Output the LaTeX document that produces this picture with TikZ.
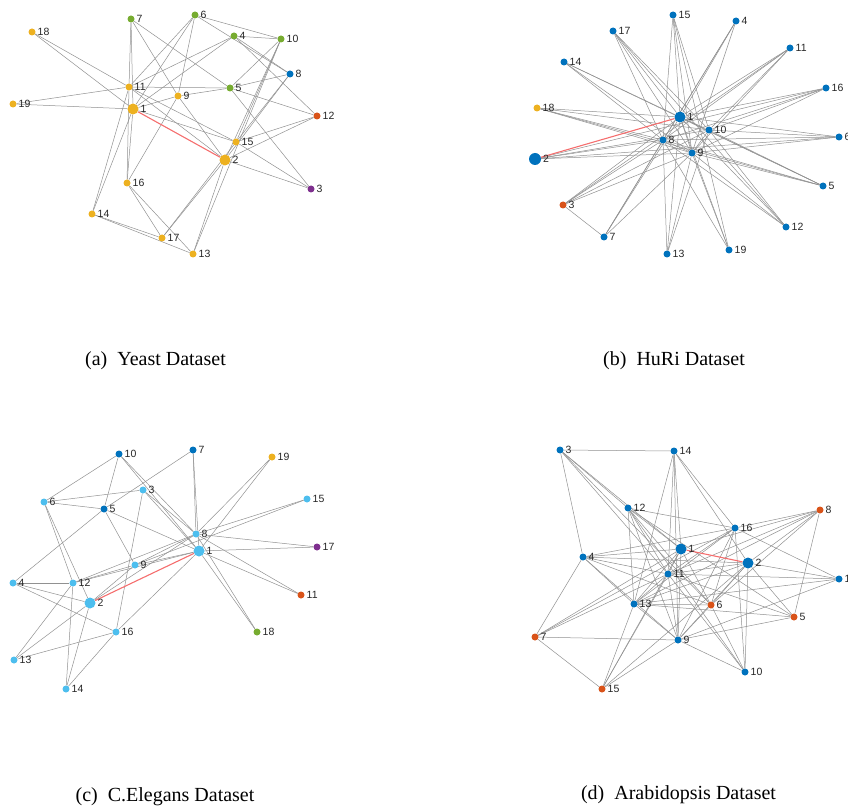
\documentclass[tikz,border=0pt]{standalone}
\usepackage{fontspec}
\setmainfont{Liberation Serif}
\newfontfamily\labfont{Liberation Sans}
\usetikzlibrary{backgrounds}
\definecolor{myY}{RGB}{237,177,32}
\definecolor{myG}{RGB}{119,172,48}
\definecolor{myB}{RGB}{0,114,189}
\definecolor{myO}{RGB}{217,83,25}
\definecolor{myP}{RGB}{126,47,142}
\definecolor{myL}{RGB}{77,190,238}
\definecolor{edgec}{RGB}{145,145,145}
\definecolor{rededge}{RGB}{245,110,110}
\tikzset{
  dot/.style={circle,inner sep=0pt,minimum size=7pt,fill=#1,draw=none},
  bigdot/.style={circle,inner sep=0pt,minimum size=11pt,fill=#1,draw=none},
  lbl/.style={font=\labfont\fontsize{10.5}{11}\selectfont,text=black!85,inner sep=0pt,label distance=1.8pt},
  ed/.style={draw=edgec,line width=0.5pt},
  red/.style={draw=rededge,line width=1.1pt},
  capt/.style={font=\fontsize{20}{22}\selectfont,inner sep=0pt}
}
\newcommand\nd[5]{\node[dot=#4,label={[lbl]right:#5}] (#1) at (#2,#3) {};}
\newcommand\bnd[5]{\node[bigdot=#4,label={[lbl]right:#5}] (#1) at (#2,#3) {};}
\begin{document}
\begin{tikzpicture}[x=1pt,y=-1pt]
\useasboundingbox (0,0) rectangle (848,810);
% ---------------- (a) Yeast ----------------
\nd{a7}{131}{19}{myG}{7}
\nd{a6}{195}{15}{myG}{6}
\nd{a18}{32}{32}{myY}{18}
\nd{a4}{234}{36}{myG}{4}
\nd{a10}{281}{39}{myG}{10}
\nd{a8}{290}{74}{myB}{8}
\nd{a11}{129}{87}{myY}{11}
\nd{a5}{230}{88}{myG}{5}
\nd{a9}{178}{96}{myY}{9}
\nd{a19}{13}{104}{myY}{19}
\bnd{a1}{133}{109}{myY}{1}
\nd{a12}{317}{116}{myO}{12}
\nd{a15}{236}{142}{myY}{15}
\bnd{a2}{225}{160}{myY}{2}
\nd{a16}{127}{183}{myY}{16}
\nd{a3}{311}{189}{myP}{3}
\nd{a14}{92}{214}{myY}{14}
\nd{a17}{162}{238}{myY}{17}
\nd{a13}{193}{254}{myY}{13}
\begin{scope}[on background layer]
\foreach \u/\v in {a18/a11,a18/a1,a19/a11,a19/a1,a7/a11,a7/a1,a7/a9,a7/a5,
  a6/a11,a6/a1,a6/a9,a6/a10,a6/a8,a4/a10,a4/a11,a4/a1,a4/a8,a4/a12,
  a10/a5,a10/a2,a10/a13,a10/a15,a8/a5,a8/a15,a8/a2,a11/a5,a11/a15,a11/a2,a11/a14,
  a1/a9,a1/a15,a1/a16,a1/a14,a11/a16,a9/a5,a9/a16,a9/a2,a5/a12,a5/a3,
  a12/a15,a12/a2,a15/a3,a2/a3,a2/a17,a2/a13,a15/a17,a16/a17,a16/a13,a14/a17,a14/a13}
  \draw[ed] (\u) -- (\v);
\draw[red] (a1) -- (a2);
\end{scope}
\node[capt] (capa) at (155.5,361) {(a)\hspace{0.5em}Yeast Dataset};
% ---------------- (b) HuRi ----------------
\nd{b15}{673}{15}{myB}{15}
\nd{b4}{736}{21}{myB}{4}
\nd{b17}{613}{31}{myB}{17}
\nd{b11}{790}{48}{myB}{11}
\nd{b14}{564}{62}{myB}{14}
\nd{b16}{826}{88}{myB}{16}
\nd{b18}{537}{108}{myY}{18}
\bnd{b1}{680}{117}{myB}{1}
\nd{b10}{709}{130}{myB}{10}
\nd{b6}{839}{137}{myB}{6}
\nd{b8}{663}{140}{myB}{8}
\nd{b9}{692}{153}{myB}{9}
\node[bigdot=myB,minimum size=12pt,label={[lbl]right:2}] (b2) at (535,159) {};
\nd{b5}{823}{186}{myB}{5}
\nd{b3}{563}{205}{myO}{3}
\nd{b12}{786}{227}{myB}{12}
\nd{b7}{604}{237}{myB}{7}
\nd{b19}{729}{250}{myB}{19}
\nd{b13}{667}{254}{myB}{13}
\begin{scope}[on background layer]
\foreach \u/\v in {b15/b8,b15/b9,b15/b10,b15/b1,b15/b19,
  b4/b1,b4/b8,b4/b9,b4/b7,b17/b1,b17/b8,b17/b9,b17/b10,b17/b12,
  b11/b1,b11/b8,b11/b9,b11/b10,b11/b3,b14/b1,b14/b8,b14/b5,b14/b9,
  b16/b1,b16/b8,b16/b9,b16/b10,b16/b2,b18/b1,b18/b8,b18/b9,b18/b10,b18/b5,
  b6/b1,b6/b8,b6/b9,b6/b10,b6/b2,b2/b8,b2/b9,b2/b10,
  b5/b1,b5/b8,b5/b9,b5/b10,b3/b1,b3/b8,b3/b9,b3/b10,b3/b7,
  b12/b1,b12/b8,b12/b9,b12/b10,b7/b1,b7/b8,b7/b9,
  b19/b1,b19/b8,b19/b9,b13/b1,b13/b8,b13/b9,b13/b10,
  b1/b10,b8/b9,b9/b10,b1/b9}
  \draw[ed] (\u) -- (\v);
\draw[red] (b1) -- (b2);
\end{scope}
\node[capt] (capb) at (674,361) {(b)\hspace{0.5em}HuRi Dataset};
% ---------------- (c) C.Elegans ----------------
\nd{c10}{119}{454}{myB}{10}
\nd{c7}{193}{450}{myB}{7}
\nd{c19}{272}{457}{myY}{19}
\nd{c3}{143}{490}{myL}{3}
\nd{c15}{307}{499}{myL}{15}
\nd{c6}{44}{502}{myL}{6}
\nd{c5}{104}{509}{myB}{5}
\nd{c8}{196}{534}{myL}{8}
\nd{c17}{317}{547}{myP}{17}
\bnd{c1}{199}{551}{myL}{1}
\nd{c9}{135}{565}{myL}{9}
\nd{c4}{13}{583}{myL}{4}
\nd{c12}{73}{583}{myL}{12}
\nd{c11}{301}{595}{myO}{11}
\bnd{c2}{90}{603}{myL}{2}
\nd{c16}{116}{632}{myL}{16}
\nd{c18}{257}{632}{myG}{18}
\nd{c13}{14}{660}{myL}{13}
\nd{c14}{66}{689}{myL}{14}
\begin{scope}[on background layer]
\foreach \u/\v in {c10/c6,c10/c5,c10/c8,c10/c1,c7/c5,c7/c8,c7/c1,
  c19/c8,c19/c1,c3/c6,c3/c16,c3/c1,c3/c8,c15/c8,c15/c9,
  c6/c5,c6/c12,c6/c2,c5/c1,c5/c9,c5/c4,
  c8/c17,c8/c11,c8/c9,c8/c12,c8/c2,c8/c18,
  c1/c17,c1/c11,c1/c18,c1/c9,c1/c16,c1/c12,
  c9/c12,c9/c2,c4/c12,c4/c2,c4/c16,c12/c13,c12/c14,
  c2/c13,c2/c14,c16/c13,c16/c14}
  \draw[ed] (\u) -- (\v);
\draw[red] (c1) -- (c2);
\end{scope}
\node[capt] (capc) at (165,797) {(c)\hspace{0.5em}C.Elegans Dataset};
% ---------------- (d) Arabidopsis ----------------
\nd{d3}{560}{450}{myB}{3}
\nd{d14}{674}{451}{myB}{14}
\nd{d12}{628}{508}{myB}{12}
\nd{d8}{820}{510}{myO}{8}
\nd{d16}{735}{528}{myB}{16}
\bnd{d1}{681}{549}{myB}{1}
\nd{d4}{583}{557}{myB}{4}
\bnd{d2}{748}{563}{myB}{2}
\nd{d11}{668}{574}{myB}{11}
\nd{d17}{839}{579}{myB}{1}
\nd{d13}{634}{604}{myB}{13}
\nd{d6}{711}{605}{myO}{6}
\nd{d5}{794}{617}{myO}{5}
\nd{d7}{535}{637}{myO}{7}
\nd{d9}{678}{640}{myB}{9}
\nd{d10}{745}{672}{myB}{10}
\nd{d15}{602}{689}{myO}{15}
\begin{scope}[on background layer]
\foreach \u/\v in {d3/d14,d3/d12,d3/d4,d3/d1,d3/d6,d3/d11,
  d14/d11,d14/d1,d14/d9,d14/d16,d14/d2,d14/d13,
  d12/d16,d12/d1,d12/d11,d12/d13,d12/d9,d12/d6,d12/d10,d12/d5,
  d8/d16,d8/d1,d8/d11,d8/d2,d8/d5,d8/d6,d8/d13,
  d16/d4,d16/d11,d16/d13,d16/d9,d16/d6,d16/d10,d16/d17,d16/d7,
  d1/d4,d1/d11,d1/d13,d1/d9,d1/d6,d1/d7,d1/d15,
  d4/d2,d4/d11,d4/d13,d4/d9,d4/d6,d4/d7,
  d2/d11,d2/d17,d2/d6,d2/d5,d2/d9,d2/d13,d2/d15,d2/d10,
  d11/d17,d11/d13,d11/d9,d11/d10,d11/d5,d11/d7,d11/d15,
  d17/d9,d17/d13,d13/d6,d13/d9,d13/d15,d13/d5,
  d6/d9,d6/d10,d5/d9,d7/d9,d7/d15,d9/d10,d9/d15}
  \draw[ed] (\u) -- (\v);
\draw[red] (d1) -- (d2);
\end{scope}
\node[capt] (capd) at (678.5,795) {(d)\hspace{0.5em}Arabidopsis Dataset};
\end{tikzpicture}
\end{document}
